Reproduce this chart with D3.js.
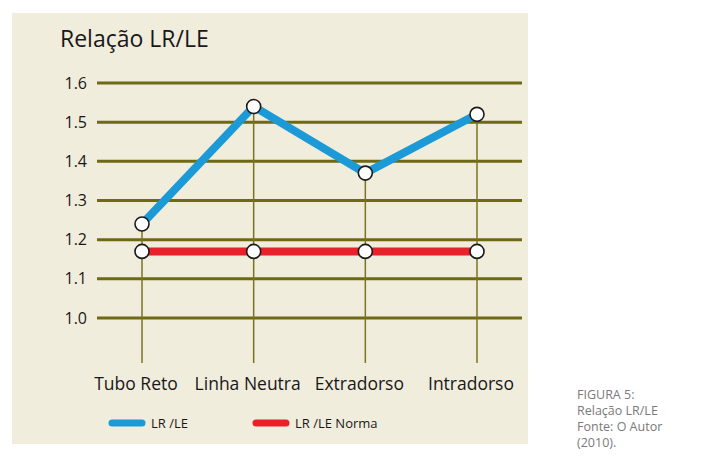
<!DOCTYPE html>
<html>
<head>
<meta charset="utf-8">
<script src="https://cdn.jsdelivr.net/npm/d3@7"></script>
<style>
  body { margin: 0; background: #fff; }
  text { font-family: "Open Sans", "Noto Sans", sans-serif; }
</style>
</head>
<body>
<div id="chart"></div>
<script>
var categories = ["Tubo Reto", "Linha Neutra", "Extradorso", "Intradorso"];
var lrLe = [1.24, 1.54, 1.37, 1.52];
var lrLeNorma = [1.17, 1.17, 1.17, 1.17];
var yTicks = [1.0, 1.1, 1.2, 1.3, 1.4, 1.5, 1.6];
var seriesNames = ["LR /LE", "LR /LE Norma"];
var captionLines = ["FIGURA 5:", "Relação LR/LE", "Fonte: O Autor", "(2010)."];

var svgWidth = 720;
var svgHeight = 462;

var svg = d3.select("#chart")
  .append("svg")
  .attr("width", svgWidth)
  .attr("height", svgHeight);

// background panel
svg.append("rect")
  .attr("x", 12)
  .attr("y", 13)
  .attr("width", 516)
  .attr("height", 431)
  .attr("fill", "#f0eddd");

svg.append("text")
  .attr("x", 60)
  .attr("y", 47)
  .attr("font-size", 23)
  .attr("fill", "#1a1718")
  .text("Relação LR/LE");

// scales
var xScale = d3.scalePoint()
  .domain(categories)
  .range([142, 477]);

var yScale = d3.scaleLinear()
  .domain([1.0, 1.6])
  .range([318, 83]);

// gridlines
var grid = svg.append("g");
grid.selectAll("line")
  .data(yTicks)
  .enter()
  .append("line")
  .attr("x1", 97)
  .attr("x2", 522)
  .attr("y1", d => yScale(d))
  .attr("y2", d => yScale(d))
  .attr("stroke", "#6e6912")
  .attr("stroke-width", 3);

// y labels
svg.append("g").selectAll("text")
  .data(yTicks)
  .enter()
  .append("text")
  .attr("x", 87)
  .attr("y", d => yScale(d))
  .attr("dy", "0.35em")
  .attr("text-anchor", "end")
  .attr("font-size", 16)
  .attr("fill", "#1a1718")
  .text(d => d.toFixed(1));

// drop lines
svg.append("g").selectAll("line")
  .data(categories)
  .enter()
  .append("line")
  .attr("x1", d => xScale(d))
  .attr("x2", d => xScale(d))
  .attr("y1", (d, i) => yScale(Math.max(lrLe[i], lrLeNorma[i])))
  .attr("y2", 363)
  .attr("stroke", "#7a7420")
  .attr("stroke-width", 1.5);

// category labels
svg.append("g").selectAll("text")
  .data(categories)
  .enter()
  .append("text")
  .attr("x", d => xScale(d))
  .attr("dx", -6)
  .attr("y", 390)
  .attr("text-anchor", "middle")
  .attr("font-size", 17.5)
  .attr("fill", "#1a1718")
  .text(d => d);

// series lines
var line = d3.line()
  .x((d, i) => xScale(categories[i]))
  .y(d => yScale(d));

svg.append("path")
  .datum(lrLeNorma)
  .attr("d", line)
  .attr("fill", "none")
  .attr("stroke", "#e8212b")
  .attr("stroke-width", 8);

svg.append("path")
  .datum(lrLe)
  .attr("d", line)
  .attr("fill", "none")
  .attr("stroke", "#1b9ad7")
  .attr("stroke-width", 8);

// markers
[lrLe, lrLeNorma].forEach(function(series) {
  svg.append("g").selectAll("circle")
    .data(series)
    .enter()
    .append("circle")
    .attr("cx", (d, i) => xScale(categories[i]))
    .attr("cy", d => yScale(d))
    .attr("r", 7)
    .attr("fill", "#fff")
    .attr("stroke", "#1a1a1a")
    .attr("stroke-width", 1.6);
});

// legend
var legendColors = ["#1b9ad7", "#e8212b"];
var legendX = [109, 253];
seriesNames.forEach(function(name, i) {
  svg.append("line")
    .attr("x1", legendX[i] + 3)
    .attr("x2", legendX[i] + 33)
    .attr("y1", 423)
    .attr("y2", 423)
    .attr("stroke", legendColors[i])
    .attr("stroke-width", 7)
    .attr("stroke-linecap", "round");
  svg.append("text")
    .attr("x", legendX[i] + 42)
    .attr("y", 423)
    .attr("dy", "0.35em")
    .attr("font-size", 13)
    .attr("fill", "#1a1718")
    .text(name);
});

// caption
svg.append("g").selectAll("text")
  .data(captionLines)
  .enter()
  .append("text")
  .attr("x", 577)
  .attr("y", (d, i) => 399 + i * 16)
  .attr("font-size", 12.5)
  .attr("fill", "#7a7a7a")
  .text(d => d);
</script>
</body>
</html>
